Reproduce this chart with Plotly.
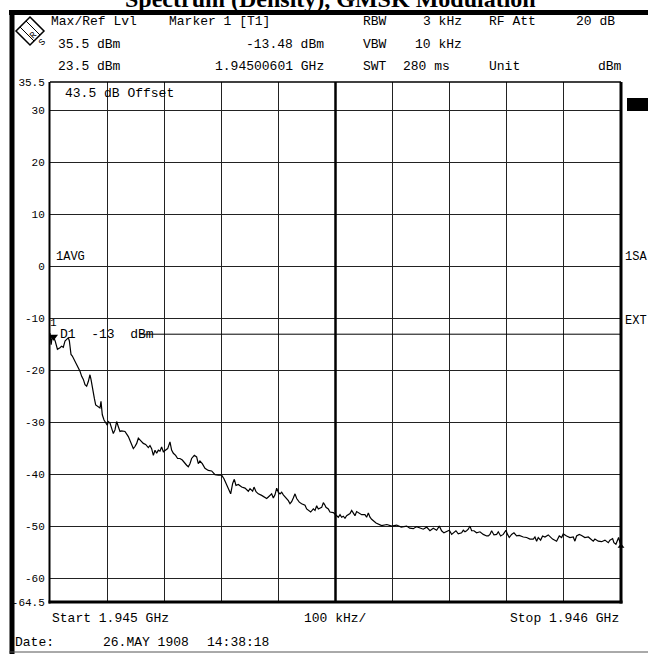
import plotly.graph_objects as go

# ---------------- data ----------------
freq_offset_khz = [
    0, 2, 4, 6, 9, 13, 17.5, 20.4, 23.3, 26.3, 29.2, 32.1, 33.9, 36.8, 39.1, 42.6, 46.7, 49.6,
    52.5, 55.5, 58.4, 61.3, 64.2, 67.1, 70.0, 71.8, 74.1, 77.6, 80.0, 83.5, 87.5, 89.3, 91.6,
    94.6, 97.5, 100.4, 102.1, 105.1, 108.0, 110.9, 113.8, 116.7, 119.7, 122.6, 125.5, 131.3,
    137.2, 141.8, 145.9, 148.8, 151.8, 154.7, 159.4, 163.4, 167.5, 172.2, 175.1, 178.0, 181.0,
    183.9, 186.8, 189.7, 192.6, 195.5, 198.5, 201.4, 206.1, 210.1, 213.0, 216.0, 220.0, 223.5,
    227.6, 231.7, 236.4, 239.3, 242.2, 245.1, 248.0, 252.7, 256.8, 259.7, 262.6, 266.7, 271.4,
    277.2, 283.1, 289.0, 294.8, 300.6, 304.7, 309.4, 314.1, 316.4, 319.9, 322.8, 325.7, 329.8,
    335.7, 341.5, 347.3, 350.3, 354.9, 357.3, 360.8, 364.8, 370.7, 376.5, 379.4, 382.4, 385.3,
    388.2, 391.1, 394.0, 397.0, 399.9, 402.8, 405.7, 408.6, 413.3, 417.4, 420.3, 423.2, 426.1,
    429.1, 432.0, 436.6, 440.7, 446.6, 449.5, 454.2, 456.5, 461.2, 464.1, 467.0, 469.9, 475.8,
    478.7, 481.6, 483.3, 487.4, 490.3, 496.2, 502.0, 504.9, 507.9, 510.8, 513.7, 516.6, 519.5,
    522.4, 525.4, 528.3, 531.2, 534.1, 537.0, 541.7, 545.8, 551.6, 554.5, 557.5, 560.4, 563.3,
    566.2, 571.0, 580.8, 590.0, 598.3, 607.1, 615.0, 624.6, 630.0, 636.3, 642.0, 647.9, 653.7,
    659.6, 665.4, 671.2, 677.1, 681.8, 685.8, 689.9, 694.6, 699.3, 703.4, 706.3, 710.9, 715.0,
    720.9, 723.8, 726.7, 729.6, 732.5, 735.5, 738.4, 742.5, 747.1, 753.0, 758.8, 764.6, 767.6,
    770.5, 773.4, 777.5, 782.2, 785.1, 789.2, 793.8, 798.5, 800.8, 804.3, 808.4, 812.5, 817.2,
    821.8, 828.9, 834.7, 840.5, 846.4, 849.3, 852.2, 855.1, 859.2, 862.7, 866.8, 872.6, 876.7,
    880.2, 887.2, 891.9, 896.0, 898.9, 904.7, 910.6, 916.4, 919.3, 922.2, 926.9, 931.0, 936.8,
    942.7, 945.6, 951.4, 954.3, 960.2, 966.0, 971.9, 977.7, 980.6, 985.3, 987.6, 991.1, 993.5,
    995.8, 1000,
]
level_dbm = [
    -12.8, -15.0, -13.4, -13.5, -14.3, -15.9, -15.6, -15.3, -15.5, -14.3, -14.0, -13.7, -14.3,
    -16.9, -17.2, -17.9, -18.8, -19.5, -20.1, -21.1, -21.7, -22.7, -23.0, -22.1, -20.8, -21.7,
    -23.4, -25.3, -26.6, -26.9, -27.2, -25.9, -28.5, -29.5, -30.1, -30.5, -29.8, -30.1, -31.1,
    -32.1, -31.4, -29.8, -30.8, -31.7, -31.6, -31.7, -32.7, -34.0, -35.0, -34.6, -34.0, -33.0,
    -33.5, -34.0, -34.2, -34.8, -34.4, -35.0, -36.3, -35.3, -35.9, -35.3, -35.5, -34.7, -35.6,
    -35.3, -35.0, -33.7, -35.3, -35.9, -36.3, -36.9, -36.9, -37.2, -37.9, -38.2, -38.5, -37.9,
    -36.9, -36.3, -36.6, -37.9, -37.4, -37.9, -38.8, -39.2, -39.3, -40.0, -40.1, -40.1, -40.8,
    -42.1, -43.4, -43.7, -41.7, -40.9, -42.1, -41.9, -42.4, -42.6, -43.2, -42.7, -43.2, -42.4,
    -43.3, -43.7, -44.0, -44.5, -44.6, -44.3, -44.0, -43.7, -44.5, -43.9, -42.6, -43.4, -43.7,
    -43.4, -43.9, -44.5, -45.0, -45.6, -45.2, -44.5, -43.7, -44.6, -45.3, -45.6, -45.9, -46.6,
    -46.9, -47.2, -46.6, -46.9, -46.0, -46.6, -46.3, -45.4, -45.9, -46.3, -46.6, -47.2, -47.3,
    -47.9, -48.2, -47.7, -48.2, -48.0, -48.4, -47.9, -47.7, -47.5, -46.9, -47.3, -47.9, -47.1,
    -47.5, -47.7, -47.7, -48.2, -47.4, -48.2, -48.6, -48.8, -49.3, -49.8, -49.6, -49.9, -49.7,
    -50.1, -49.9, -50.3, -50.4, -50.0, -50.2, -50.5, -50.1, -50.8, -50.3, -50.7, -49.9, -50.8,
    -51.2, -51.0, -50.7, -51.5, -51.2, -50.8, -51.4, -51.2, -50.7, -51.0, -50.8, -50.5, -49.9,
    -50.8, -50.8, -51.2, -51.0, -51.5, -51.8, -51.8, -51.5, -50.8, -51.6, -51.5, -51.0, -51.8,
    -51.5, -50.7, -51.4, -52.1, -51.5, -51.2, -51.8, -51.7, -52.0, -52.1, -52.4, -52.4, -52.0,
    -52.8, -52.1, -52.6, -51.8, -52.0, -51.6, -52.1, -52.4, -52.8, -51.8, -52.1, -51.4, -51.8,
    -52.1, -52.0, -52.8, -51.8, -51.5, -51.7, -52.1, -52.0, -52.3, -52.8, -52.4, -52.8, -52.9,
    -52.6, -53.1, -52.6, -52.3, -53.1, -53.4, -52.6, -52.1, -53.8,
]
y_tick_vals = [35.5, 30, 20, 10, 0, -10, -20, -30, -40, -50, -60, -64.5]
y_tick_text = ["35.5", "30", "20", "10", "0", "-10", "-20", "-30", "-40", "-50", "-60", "-64.5"]
x_span_khz = [0, 1000]
x_div_khz = 100
marker_freq_khz = 6.01
marker_level_dbm = -13.48
display_line_dbm = -13
display_line_start_khz = 158

title_text = "Spectrum (Density), GMSK Modulation"

# ---------------- layout helpers ----------------
W, H = 648, 654
L, R, T, B = 50, 621, 82, 602
MONO = "Liberation Mono, DejaVu Sans Mono, monospace"


def px(x):
    return (x - L) / (R - L)


def py(y):
    return (B - y) / (B - T)


annotations = []


def text(t, x, y, anchor="left", size=13, font=MONO, color="black", bold=False, yanchor="middle"):
    annotations.append(dict(
        text=("<b>%s</b>" % t) if bold else t, x=px(x), y=py(y), xref="paper", yref="paper",
        xanchor=anchor, yanchor=yanchor, showarrow=False,
        font=dict(family=font, size=size, color=color), borderpad=0))


shapes = []


def rect(x0, y0, x1, y1, color="black"):
    shapes.append(dict(type="rect", xref="paper", yref="paper", x0=px(x0), x1=px(x1),
                       y0=py(y0), y1=py(y1), fillcolor=color, line=dict(width=0), layer="above"))


def line(x0, y0, x1, y1, width=1, color="black"):
    shapes.append(dict(type="line", xref="paper", yref="paper", x0=px(x0), x1=px(x1),
                       y0=py(y0), y1=py(y1), line=dict(color=color, width=width), layer="above"))


fig = go.Figure()

fig.add_trace(go.Scatter(x=freq_offset_khz, y=level_dbm, mode="lines",
                         line=dict(color="black", width=1.2), showlegend=False, hoverinfo="skip"))

# marker 1
fig.add_trace(go.Scatter(x=[marker_freq_khz], y=[marker_level_dbm], mode="markers",
                         marker=dict(symbol="triangle-down", size=8, color="black"),
                         showlegend=False, hoverinfo="skip"))
annotations.append(dict(text="1", x=marker_freq_khz, y=marker_level_dbm, xref="x", yref="y",
                        showarrow=False, yshift=14, font=dict(family=MONO, size=11, color="black")))
# trace end indicator
fig.add_trace(go.Scatter(x=[freq_offset_khz[-1]], y=[level_dbm[-1]], mode="markers",
                         marker=dict(symbol="triangle-up", size=6, color="black"),
                         showlegend=False, hoverinfo="skip", cliponaxis=False))

# display line D1
shapes.append(dict(type="line", xref="x", yref="y", x0=display_line_start_khz, x1=x_span_khz[1],
                   y0=display_line_dbm, y1=display_line_dbm, line=dict(color="black", width=1)))
annotations.append(dict(text="D1  -13  dBm", x=px(58), y=display_line_dbm, xref="paper", yref="y",
                        xanchor="left", yanchor="middle", showarrow=False,
                        font=dict(family=MONO, size=13, color="black")))
# centre line
shapes.append(dict(type="line", xref="x", yref="paper", x0=500, x1=500, y0=0, y1=1,
                   line=dict(color="black", width=2.5)))

# plot frame
line(L, T, R, T, width=1.5)
line(L - 0.5, T, L - 0.5, B + 1.5, width=2)
line(R, T, R, B + 1.5, width=3)
line(L - 1.5, B, R + 1.5, B, width=3)

# screen borders
line(9, 12.5, 648, 12.5, width=5)
line(12, 10, 12, 654, width=5)
line(9, 652, 648, 652, width=1, color="#555")

# R&S logo
cx, cy, r = 30, 31, 14
shapes.append(dict(type="path", xref="paper", yref="paper",
                   path="M %f %f L %f %f L %f %f L %f %f Z" % (
                       px(cx), py(cy - r), px(cx + r), py(cy), px(cx), py(cy + r), px(cx - r), py(cy)),
                   line=dict(color="black", width=1.5), fillcolor="white", layer="above"))
shapes.append(dict(type="path", xref="paper", yref="paper",
                   path="M %f %f L %f %f M %f %f L %f %f" % (
                       px(cx - 10), py(cy - 4), px(cx + 4), py(cy + 10),
                       px(cx - 4), py(cy - 10), px(cx + 10), py(cy + 4)),
                   line=dict(color="black", width=1), layer="above"))
annotations.append(dict(text="R", x=px(26), y=py(27), xref="paper", yref="paper", showarrow=False,
                        textangle=-45, font=dict(family=MONO, size=9, color="black")))
annotations.append(dict(text="S", x=px(34), y=py(35), xref="paper", yref="paper", showarrow=False,
                        textangle=-45, font=dict(family=MONO, size=9, color="black")))

# title (cut off by the top of the screen, as in the original)
text(title_text, 330, 13, anchor="center", size=24, font="Liberation Serif, serif", bold=True,
     yanchor="bottom")

# header
text("Max/Ref Lvl", 50, 22)
text("Marker 1 [T1]", 168, 22)
text("RBW", 362, 22)
text("3 kHz", 463, 22, anchor="right")
text("RF Att", 488, 22)
text("20 dB", 575, 22)
text("35.5 dBm", 57, 44)
text("-13.48 dBm", 325, 44, anchor="right")
text("VBW", 362, 44)
text("10 kHz", 463, 44, anchor="right")
text("23.5 dBm", 57, 66)
text("1.94500601 GHz", 325, 66, anchor="right")
text("SWT", 362, 66)
text("280 ms", 402, 66)
text("Unit", 488, 66)
text("dBm", 597, 66)

# in-screen labels
text("43.5 dB Offset", 64, 93)
text("1AVG", 55, 257, size=12)
text("1SA", 624, 257, size=12)
text("EXT", 624, 321, size=12)
rect(627, 98, 648, 111)

# bottom
text("Start 1.945 GHz", 51, 618)
text("100 kHz/", 303, 618)
text("Stop 1.946 GHz", 620, 618, anchor="right")
text("Date:", 14, 642)
text("26.MAY 1908", 102, 642)
text("14:38:18", 206, 642)

fig.update_layout(
    width=W, height=H,
    margin=dict(l=L, r=W - R, t=T, b=H - B, pad=0),
    paper_bgcolor="white", plot_bgcolor="white",
    xaxis=dict(range=x_span_khz, dtick=x_div_khz, tick0=0, showgrid=True, gridcolor="#222",
               gridwidth=1, showticklabels=False, zeroline=False, showline=False, ticks=""),
    yaxis=dict(range=[y_tick_vals[-1], y_tick_vals[0]], tickvals=y_tick_vals, ticktext=y_tick_text,
               showgrid=True, gridcolor="#222", gridwidth=1, zeroline=False, showline=False,
               ticks="outside", ticklen=2, tickcolor="rgba(0,0,0,0)",
               tickfont=dict(family=MONO, size=11, color="black")),
    annotations=annotations,
    shapes=shapes,
    showlegend=False,
)

fig.write_html("out.html")
